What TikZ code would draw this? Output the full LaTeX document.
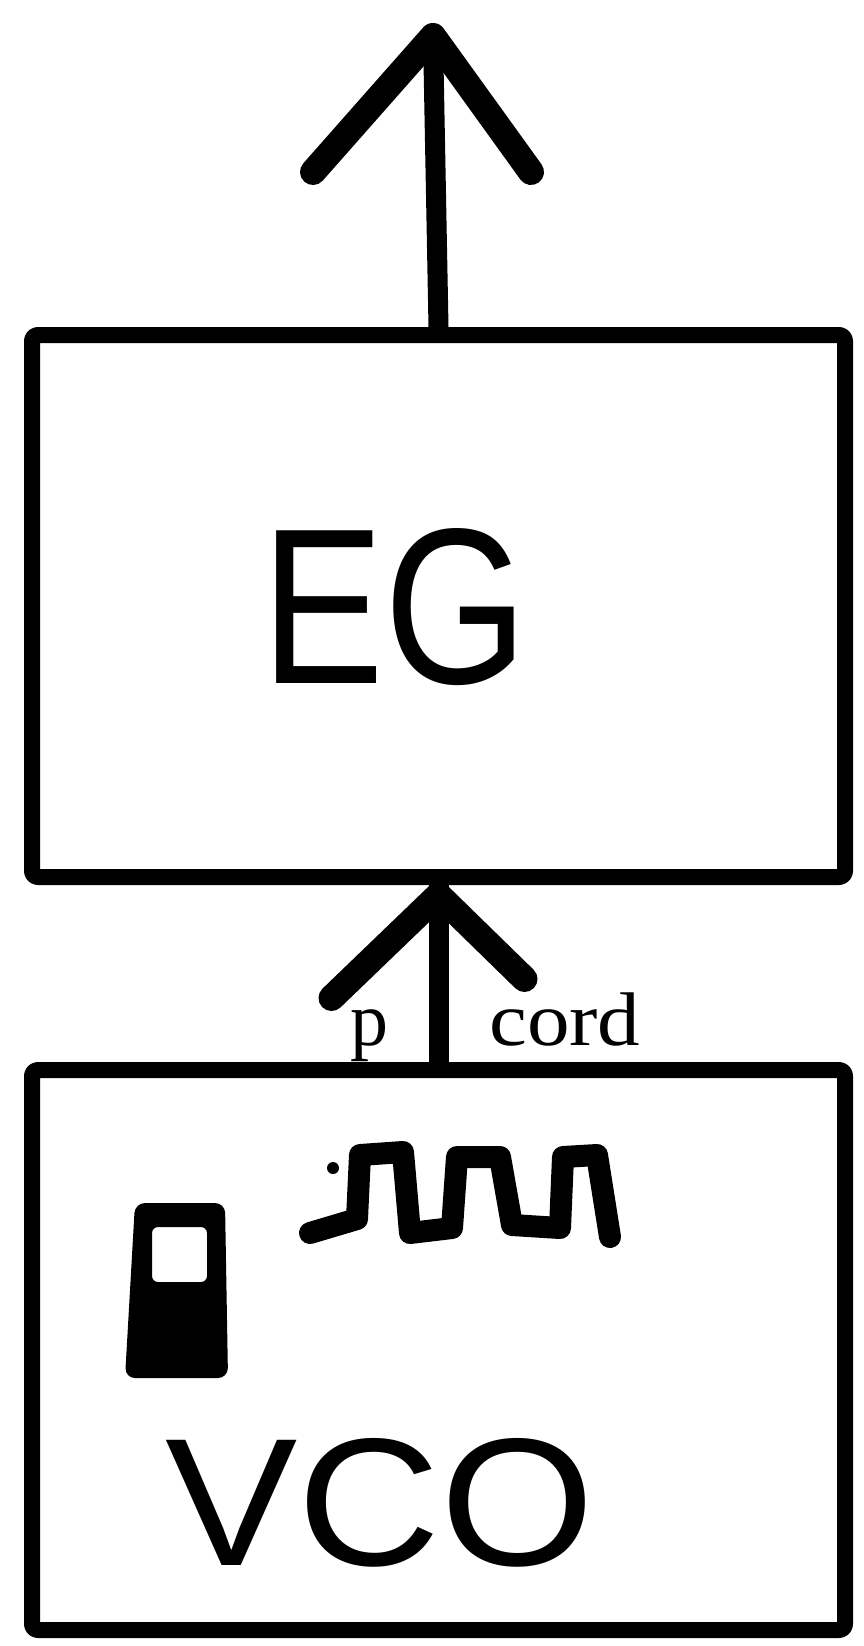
\documentclass[tikz,border=0pt]{standalone}
\usepackage{fontspec}
\setmainfont{Liberation Serif}
\newfontfamily\handfont{Liberation Sans}
\begin{document}
\begin{tikzpicture}[x=1pt,y=-1pt,
  boxstyle/.style={draw=black,line width=16pt,rounded corners=6pt,inner sep=0pt,
    line join=round},
  conn/.style={draw=black,line width=20pt,line cap=round,line join=round},
  headstyle/.style={draw=black,line width=26pt,line cap=round,line join=round},
  bigtext/.style={inner sep=0pt,font=\handfont},
  smalltext/.style={inner sep=0pt,anchor=base west,font=\fontsize{76}{76}\selectfont},
  wavestyle/.style={draw=black,line width=22pt,line cap=round,line join=round}]
\useasboundingbox (0,0) rectangle (864,1646);
% boxes
\node[boxstyle,minimum width=813pt,minimum height=542pt] (eg) at (438.5,606) {};
\node[boxstyle,minimum width=813pt,minimum height=560pt] (vco) at (438.5,1350) {};
% labels
\node[bigtext] (eglabel) at (395,607) {\fontsize{222}{222}\selectfont\scalebox{0.83}[1]{EG}};
\node[bigtext] (vcolabel) at (380,1503) {\fontsize{182}{182}\selectfont\scalebox{1.09}[1]{VCO}};
\node[smalltext] (plabel) at (350,1045) {p};
\node[smalltext] (cordlabel) at (489,1045) {\scalebox{1.12}[1]{cord}};
% output arrow
\coordinate (out) at (433,36);
\draw[conn] (eg.north) -- (out);
\draw[headstyle] (out) ++(-120,136) -- (out) -- ++(98,136);
% arrow VCO -> EG
\coordinate (tip2) at ([yshift=-10pt]eg.south);
\draw[conn] (vco.north) -- (eg.south);
\draw[headstyle] (tip2) ++(-107,103) -- (tip2) -- ++(86,84);
% square wave
\draw[wavestyle] (310,1233) -- (357,1219) -- (360,1155) -- (403,1152) -- (410,1233)
  -- (452,1228) -- (457,1157) -- (500,1157) -- (512,1225) -- (560,1228)
  -- (563,1157) -- (597,1155) -- (610,1237);
\fill[black] (333,1168) circle (6);
% switch
\fill[black,even odd rule,rounded corners=10pt]
  (135,1203) -- (225,1203) -- (228,1378) -- (125,1378) -- cycle
  [rounded corners=6pt] (152,1227) -- (207,1227) -- (207,1282) -- (152,1282) -- cycle;
\end{tikzpicture}
\end{document}
